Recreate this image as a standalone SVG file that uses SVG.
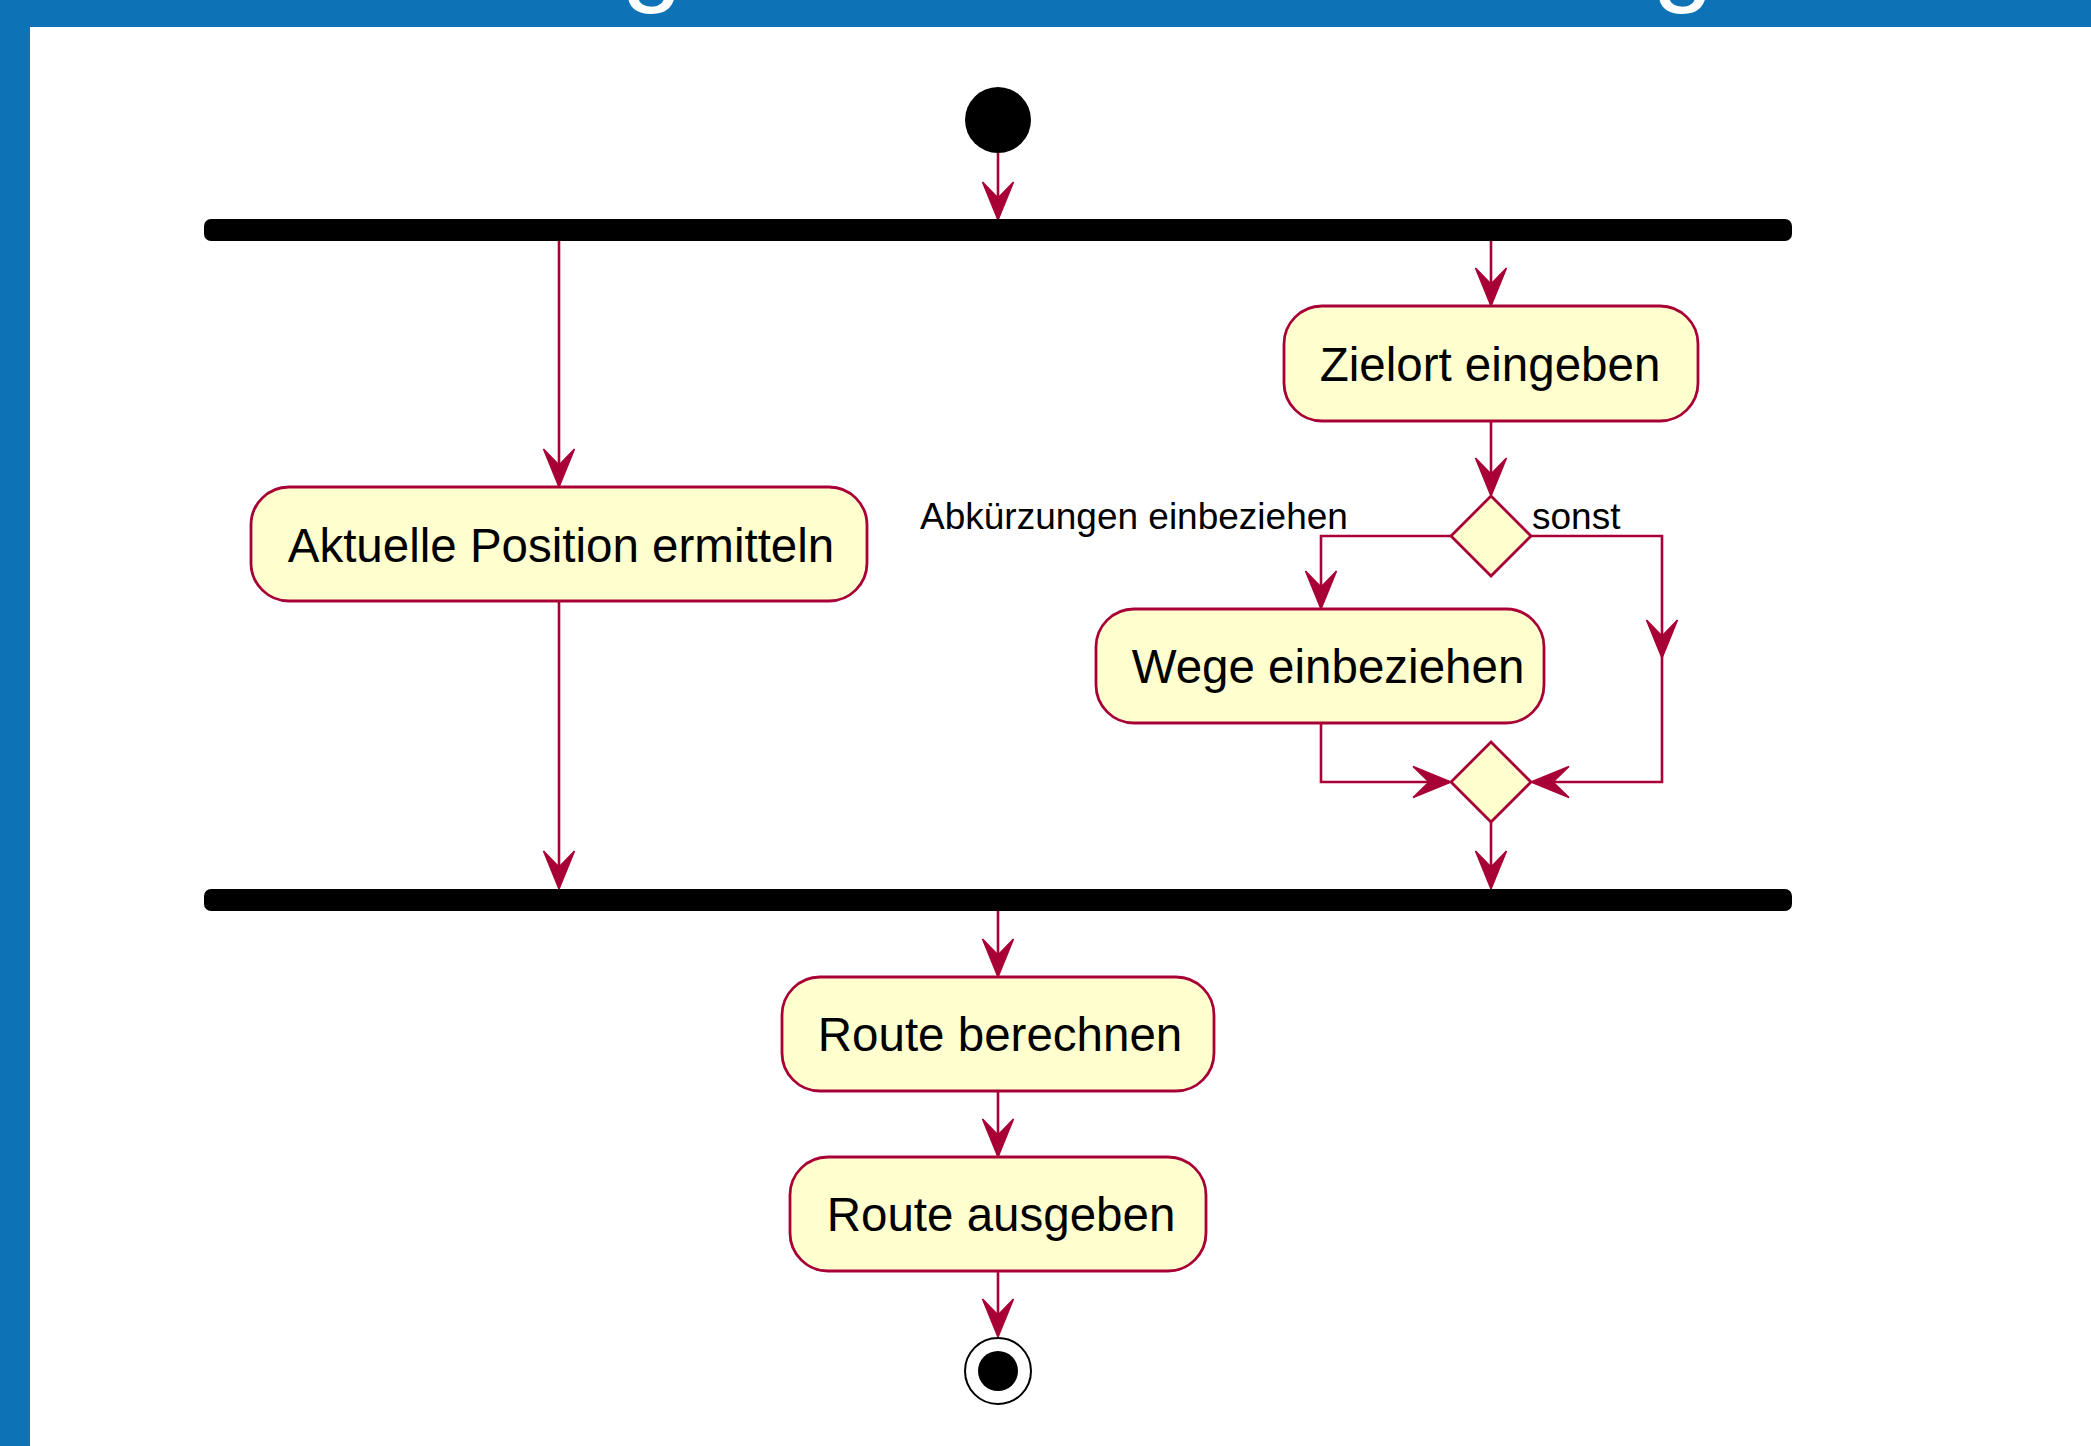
<svg xmlns="http://www.w3.org/2000/svg" width="2091" height="1446" viewBox="0 0 2091 1446">
<style>
.bg{fill:#ffffff}
.frame{fill:#0D72B6}
.title{fill:#ffffff;font-family:"Liberation Sans",Arial,sans-serif;font-size:110px}
.act{fill:#FEFECE;stroke:#A80036;stroke-width:2.8}
.dia{fill:#FEFECE;stroke:#A80036;stroke-width:2.8}
.bar{fill:#000000}
.lbl{font-family:"Liberation Sans",Arial,sans-serif;font-size:47.5px;fill:#000000;text-anchor:middle}
.glbl{font-family:"Liberation Sans",Arial,sans-serif;font-size:37px;fill:#000000}
.edge{fill:none;stroke:#A80036;stroke-width:2.6}
.head{fill:#A80036;stroke:#A80036;stroke-width:1.5;stroke-linejoin:miter}
</style>
<defs>
<path id="ah" d="M0,0 L-15.5,-38 L0,-22 L15.5,-38 Z"/>
</defs>
<rect class="bg" x="0" y="0" width="2091" height="1446"/>
<g id="frame">
<rect class="frame" x="0" y="0" width="2091" height="27"/>
<rect class="frame" x="0" y="0" width="30" height="1446"/>
<text class="title" x="652" y="-9" text-anchor="middle">g</text>
<text class="title" x="1683" y="-9" text-anchor="middle">g</text>
</g>
<g id="connectors">
<path class="edge" d="M998,153 V218"/>
<path class="edge" d="M559,241 V485"/>
<path class="edge" d="M1491,241 V304"/>
<path class="edge" d="M1491,421 V494"/>
<path class="edge" d="M1451,536 H1321 V607"/>
<path class="edge" d="M1531,536 H1662 V782 H1533"/>
<path class="edge" d="M1321,723 V782 H1449"/>
<path class="edge" d="M1491,822 V887"/>
<path class="edge" d="M559,601 V887"/>
<path class="edge" d="M998,911 V975"/>
<path class="edge" d="M998,1091 V1155"/>
<path class="edge" d="M998,1271 V1335"/>
<use href="#ah" class="head" transform="translate(998,220)"/>
<use href="#ah" class="head" transform="translate(559,487)"/>
<use href="#ah" class="head" transform="translate(1491,306)"/>
<use href="#ah" class="head" transform="translate(1491,496)"/>
<use href="#ah" class="head" transform="translate(1321,609)"/>
<use href="#ah" class="head" transform="translate(1662,658)"/>
<use href="#ah" class="head" transform="translate(1451,782) rotate(-90)"/>
<use href="#ah" class="head" transform="translate(1531,782) rotate(90)"/>
<use href="#ah" class="head" transform="translate(1491,889)"/>
<use href="#ah" class="head" transform="translate(559,889)"/>
<use href="#ah" class="head" transform="translate(998,977)"/>
<use href="#ah" class="head" transform="translate(998,1157)"/>
<use href="#ah" class="head" transform="translate(998,1337)"/>
<text class="glbl" x="920" y="529">Abkürzungen einbeziehen</text>
<text class="glbl" x="1532" y="529">sonst</text>
</g>
<g id="start">
<circle cx="998" cy="120" r="33" fill="#000000"/>
</g>
<g id="fork">
<rect class="bar" x="204" y="219" width="1588" height="22" rx="7"/>
</g>
<g id="aktuelle_position">
<rect class="act" x="251" y="487" width="616" height="114" rx="38"/>
<text class="lbl" x="561" y="562">Aktuelle Position ermitteln</text>
</g>
<g id="zielort">
<rect class="act" x="1284" y="306" width="414" height="115" rx="38"/>
<text class="lbl" x="1490" y="381">Zielort eingeben</text>
</g>
<g id="decision">
<polygon class="dia" points="1491,496 1531,536 1491,576 1451,536"/>
</g>
<g id="wege">
<rect class="act" x="1096" y="609" width="448" height="114" rx="38"/>
<text class="lbl" x="1328" y="683">Wege einbeziehen</text>
</g>
<g id="merge">
<polygon class="dia" points="1491,742 1531,782 1491,822 1451,782"/>
</g>
<g id="join">
<rect class="bar" x="204" y="889" width="1588" height="22" rx="7"/>
</g>
<g id="route_berechnen">
<rect class="act" x="782" y="977" width="432" height="114" rx="38"/>
<text class="lbl" x="1000" y="1051">Route berechnen</text>
</g>
<g id="route_ausgeben">
<rect class="act" x="790" y="1157" width="416" height="114" rx="38"/>
<text class="lbl" x="1001" y="1231">Route ausgeben</text>
</g>
<g id="end">
<circle cx="998" cy="1371" r="33" fill="#ffffff" stroke="#000000" stroke-width="2"/>
<circle cx="998" cy="1371" r="20" fill="#000000"/>
</g>
</svg>
